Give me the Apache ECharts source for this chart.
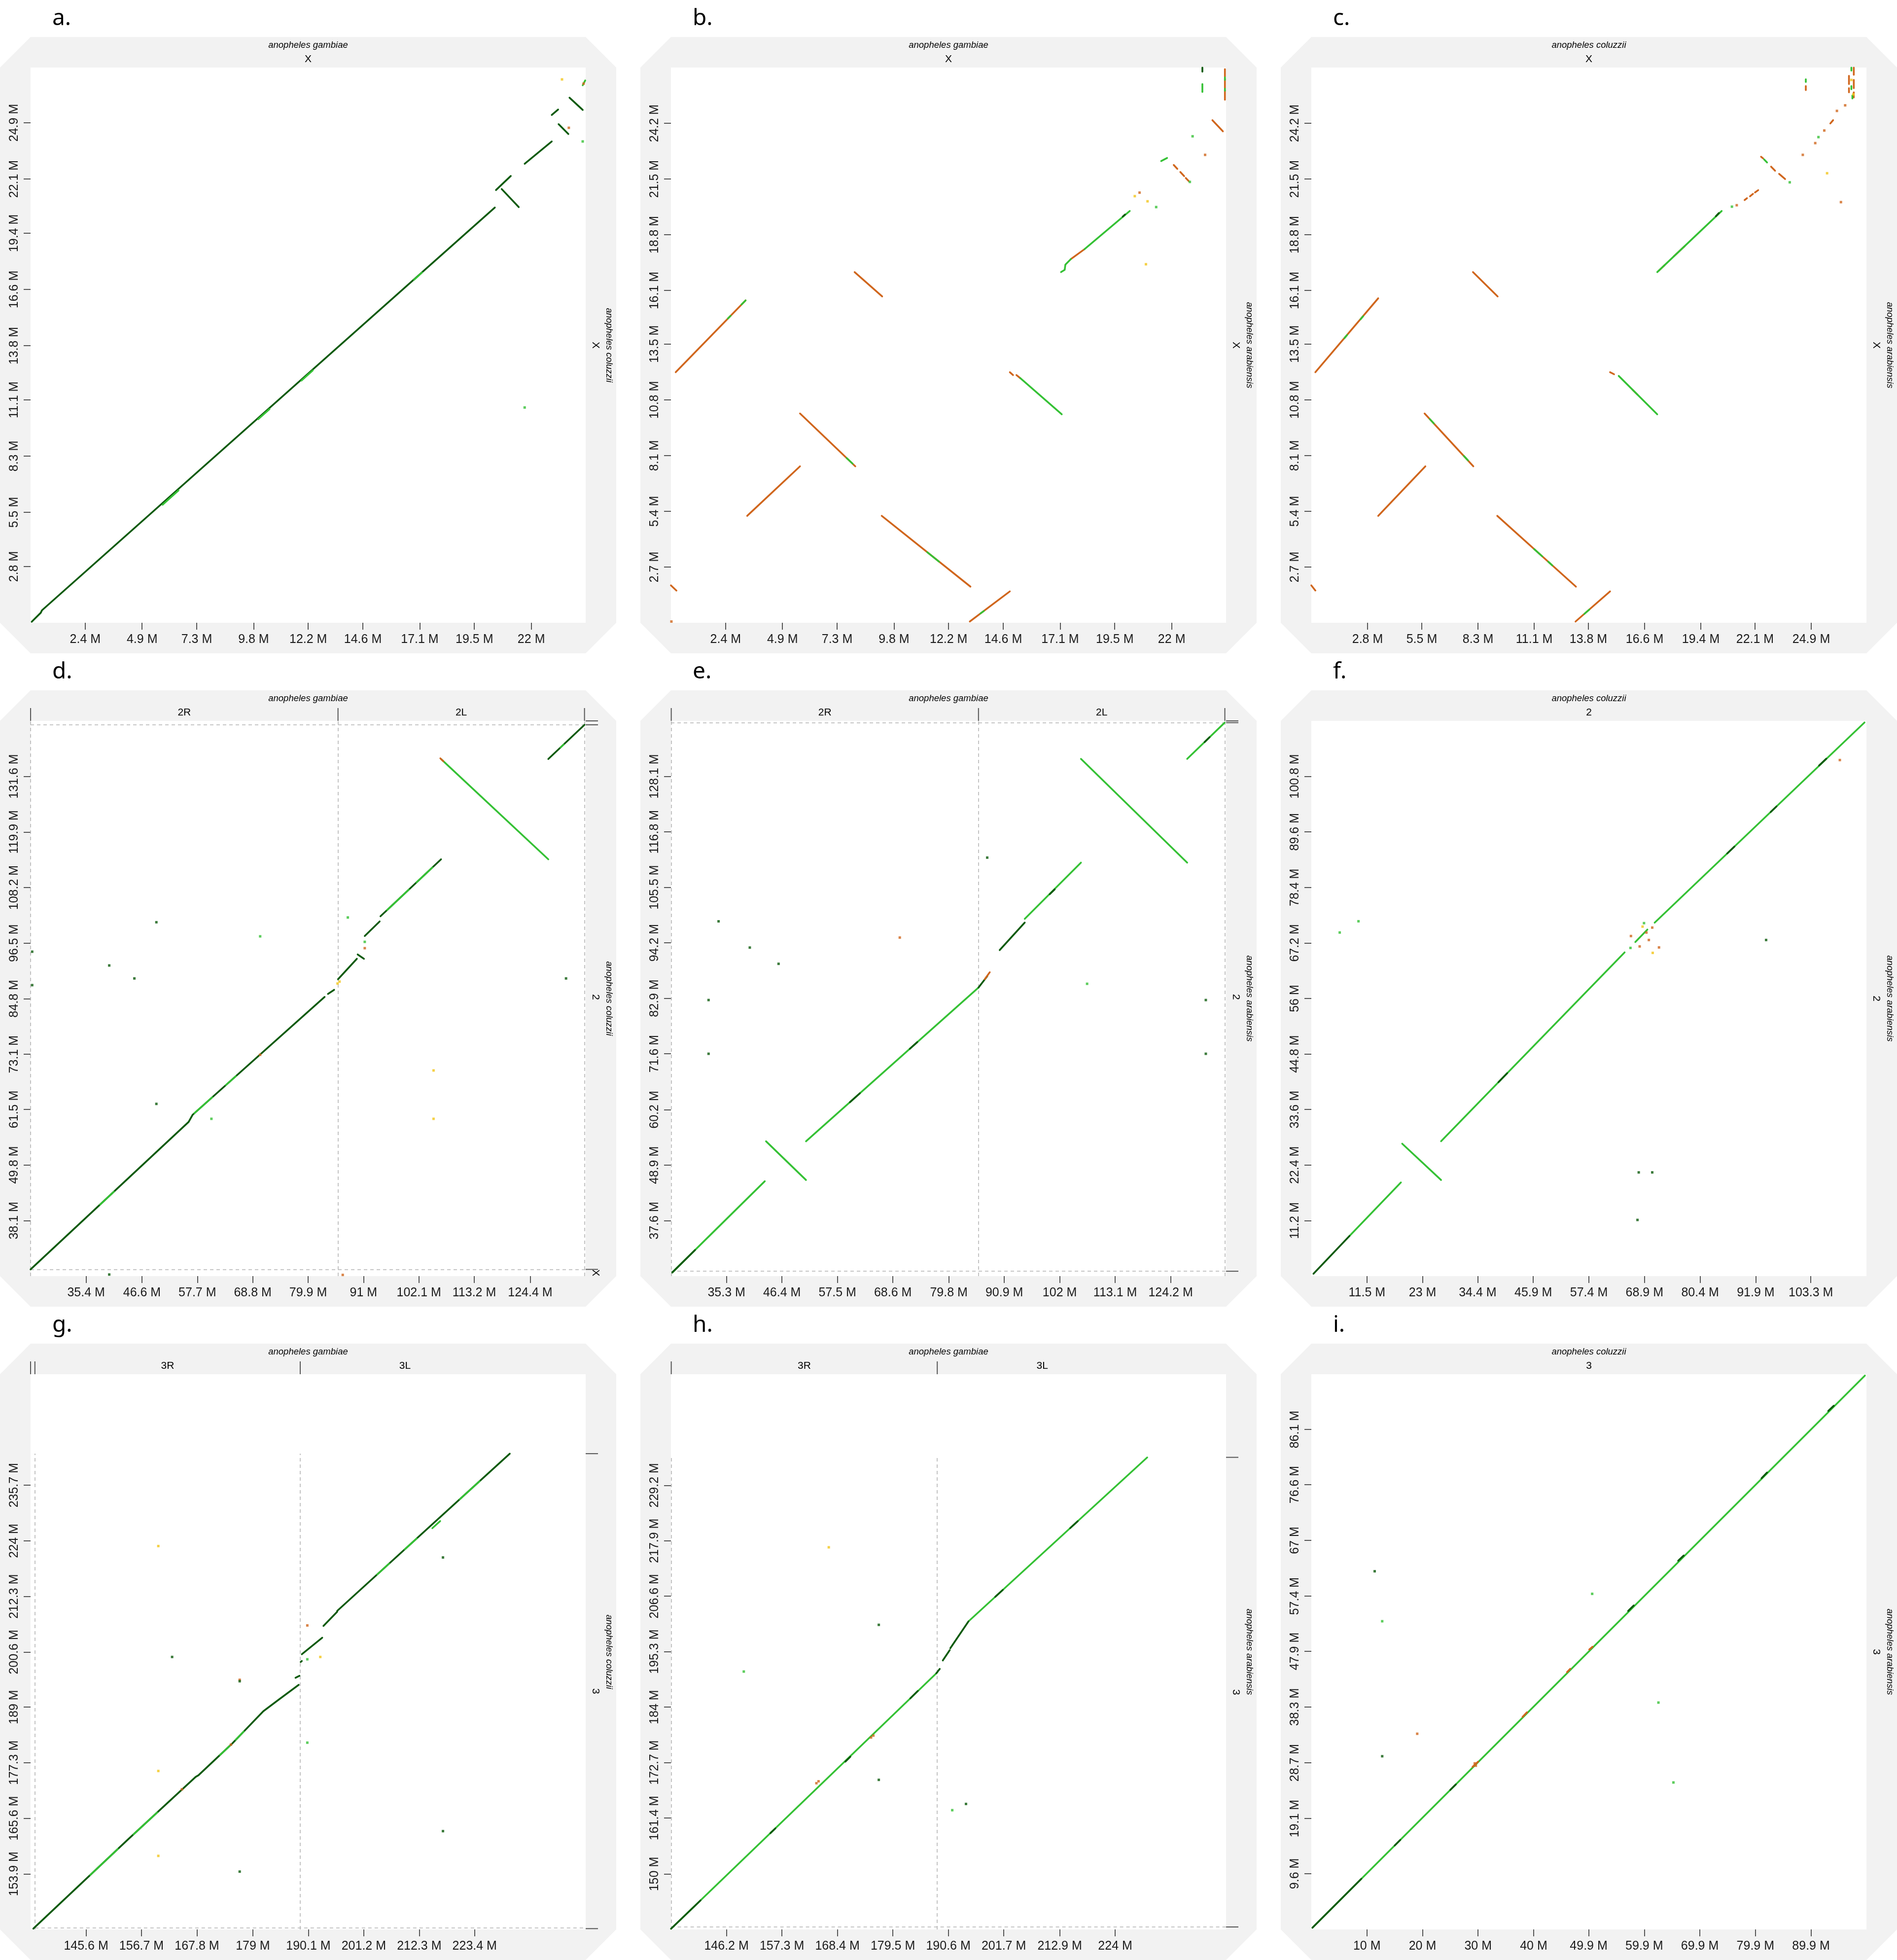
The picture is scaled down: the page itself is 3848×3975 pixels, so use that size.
<!DOCTYPE html>
<html><head><meta charset="utf-8">
<script src="https://cdn.jsdelivr.net/npm/echarts@6/dist/echarts.min.js"></script>
<style>html,body{margin:0;padding:0;background:#fff}#c{width:3848px;height:3975px}</style>
</head><body><div id="c"></div>
<script>
// ---------- colours ----------
const COLORS = {dark:'#0b5a0b', light:'#35c135', orange:'#d0661d', yellow:'#f3c51a'};

// ---------- panel a : gambiae X vs coluzzii X ----------
const aXRange=[0,24.39], aYRange=[0,27.65];
const aXTicks=[2.4,4.9,7.3,9.8,12.2,14.6,17.1,19.5,22];
const aYTicks=[2.8,5.5,8.3,11.1,13.8,16.6,19.4,22.1,24.9];
const aDark=[[0.05,0.05,0.45,0.5,0.5,0.62,20.4,20.68],[20.45,21.55,21.1,22.25],[20.7,21.6,21.45,20.7],
 [21.71,22.86,22.9,23.97],[22.9,25.29,23.18,25.56],[23.68,26.15,24.26,25.54],[23.2,24.83,23.63,24.34]];
const aLight=[[5.8,5.88,6.5,6.59],[10.0,10.14,10.5,10.64],[11.9,12.06,12.4,12.57],[16.85,17.08,17.2,17.44],[24.26,26.77,24.37,27.01]];
const aDotLight=[[21.71,10.72],[24.26,23.97]];
const aDotOrange=[[23.65,24.65],[24.3,26.85]];
const aDotYellow=[[23.35,27.06]];

// ---------- panel b : gambiae X vs arabiensis X ----------
const bXRange=[0,24.39], bYRange=[0,26.9];
const bXTicks=[2.4,4.9,7.3,9.8,12.2,14.6,17.1,19.5,22];
const bYTicks=[2.7,5.4,8.1,10.8,13.5,16.1,18.8,21.5,24.2];
const bOrange=[[0.21,12.14,3.28,15.62],[3.35,5.18,5.67,7.58],[5.67,10.14,8.10,7.58],[8.07,16.99,9.28,15.81],
 [9.26,5.18,13.16,1.75],[13.13,0.06,14.89,1.52],[14.89,12.14,15.03,12.0],[15.18,12.0,15.35,11.85],
 [17.57,17.62,18.17,18.10],[0.0,1.81,0.24,1.56],[23.79,24.35,24.25,23.81],
 [24.34,26.82,24.34,26.45],[24.34,26.35,24.34,25.9],[24.34,25.8,24.34,25.34],
 [22.09,22.18,22.25,21.99],[22.38,21.84,22.55,21.64],[22.62,21.55,22.75,21.40]];
const bLight=[[15.35,11.85,17.17,10.10],[17.14,16.99,17.3,17.1,17.33,17.35,17.57,17.62],[18.17,18.10,20.16,19.95],
 [3.1,15.42,3.28,15.62],[2.5,14.74,2.62,14.87],[7.72,7.98,7.98,7.71],[11.26,3.42,11.78,2.96],[13.6,0.45,13.75,0.57],
 [21.54,22.37,21.80,22.52],[23.35,26.1,23.35,25.72],[24.34,26.42,24.34,26.3],[24.34,25.88,24.34,25.78]];
const bDark=[[23.35,26.9,23.35,26.7],[19.85,19.68,19.95,19.78]];
const bDotOrange=[[20.59,20.84],[23.47,22.67],[0.02,0.06]];
const bDotLight=[[22.92,23.57],[21.32,20.14],[22.80,21.36]];
const bDotYellow=[[20.38,20.67],[20.94,20.42],[20.87,17.37]];

// ---------- panel c : coluzzii X vs arabiensis X ----------
const cXRange=[0,27.65], cYRange=[0,26.9];
const cXTicks=[2.8,5.5,8.3,11.1,13.8,16.6,19.4,22.1,24.9];
const cYTicks=[2.7,5.4,8.1,10.8,13.5,16.1,18.8,21.5,24.2];
const cOrange=[[0.20,12.14,3.33,15.72],[3.33,5.18,5.68,7.58],[5.64,10.14,8.07,7.58],[8.05,16.99,9.28,15.81],
 [9.26,5.18,13.18,1.75],[13.16,0.06,14.88,1.52],[14.88,12.14,15.08,12.04],[17.3,17.05,17.6,17.33],
 [18.05,17.75,18.6,18.25],[16.0,11.29,16.25,11.05],[0.0,1.81,0.2,1.56],
 [21.58,20.48,21.7,20.57],[21.85,20.66,22.0,20.78],[22.1,20.85,22.26,20.96],
 [22.40,22.58,22.5,22.5],[22.9,22.1,23.1,21.9],[23.3,21.75,23.6,21.5],[25.85,24.19,25.99,24.35],
 [26.78,26.5,26.78,26.1],[26.78,25.9,26.78,25.7],[27.02,26.9,27.02,26.55],[27.02,26.3,27.02,25.9],[27.02,25.7,27.02,25.45],
 [24.63,26.0,24.63,25.81]];
const cLight=[[15.31,11.96,17.23,10.10],[17.23,16.99,20.44,19.95],[1.65,13.79,1.78,13.94],[2.45,14.70,2.58,14.85],
 [5.9,9.87,6.1,9.66],[7.6,8.08,7.8,7.87],[11.1,3.57,11.5,3.22],[11.8,2.96,12.0,2.78],[13.6,0.43,13.85,0.64],
 [22.55,22.45,22.7,22.3],[24.63,26.33,24.63,26.2],[26.9,26.9,26.9,26.75],[26.9,26.0,26.9,25.85],[26.95,25.55,26.95,25.4]];
const cDark=[[20.15,19.7,20.3,19.85]];
const cDotLight=[[20.95,20.16],[25.26,23.53],[23.83,21.34]];
const cDotOrange=[[21.19,20.23],[24.48,22.67],[25.10,23.24],[25.55,23.85],[26.18,24.80],[26.59,25.07],[26.38,20.38]];
const cDotYellow=[[25.69,21.78],[26.9,26.3],[27.0,25.6]];

// ---------- panel d : gambiae 2 vs coluzzii 2 ----------
const dXRange=[24.275,135.525], dYRange=[26.41,143.285];
const dXTicks=[35.4,46.6,57.7,68.8,79.9,91,102.1,113.2,124.4];
const dYTicks=[38.1,49.8,61.5,73.1,84.8,96.5,108.2,119.9,131.6];
const dDark=[[24.28,27.82,55.95,58.86,56.74,60.35,83.2,85.18],[83.88,85.81,85.11,86.67],[85.89,88.90,89.67,93.21],
 [89.83,94.12,91.09,93.21],[91.25,98.01,94.24,101.07],[94.40,102.15,106.54,114.15],[128.04,135.26,135.29,142.46]];
const dLight=[[106.54,135.26,128.04,114.15],[38.22,41.48,40.98,44.18],[57.13,60.72,60.68,64.05],[63.43,66.63,65.40,68.48],
 [95.74,103.47,100.07,107.75],[101.65,109.31,104.80,112.42],[130.5,137.7,131.1,138.3]];
const dOrange=[[106.4,135.4,107.0,134.8]];
const dDotDark=[[49.49,100.90],[40.04,91.80],[45.08,89.07],[24.6,94.70],[24.6,87.66],[49.49,62.66],[131.59,89.07],[40.04,26.74]];
const dDotLight=[[60.52,59.52],[70.29,97.93],[87.86,101.90],[91.25,96.77]];
const dDotOrange=[[91.25,95.44],[86.84,26.66],[70.29,73.0]];
const dDotYellow=[[105.04,69.70],[105.04,59.52],[85.8,88.0],[86.2,88.4]];
const dDashed=[[24.28,26.41,24.28,143.285],[85.89,26.41,85.89,143.285],[135.29,26.41,135.29,143.285],
 [24.275,27.82,135.525,27.82],[24.275,142.46,135.525,142.46]];

// ---------- panel e : gambiae 2 vs arabiensis 2 ----------
const eXRange=[24.19,135.29], eYRange=[26.29,139.42];
const eXTicks=[35.3,46.4,57.5,68.6,79.8,90.9,102,113.1,124.2];
const eYTicks=[37.6,48.9,60.2,71.6,82.9,94.2,105.5,116.8,128.1];
const eLight=[[24.46,27.03,42.97,45.62],[43.22,53.76,51.22,45.87],[51.22,53.76,85.74,85.08],[95.0,99.09,106.25,110.54],
 [106.25,131.68,127.51,110.54],[127.51,131.68,135.01,139.06]];
const eDark=[[24.46,27.03,29.0,31.59],[85.74,85.08,87.5,87.4],[89.99,92.72,95.0,98.32],[60.0,61.72,62.0,63.54],
 [72.0,72.61,73.5,73.97],[100.0,104.1,101.0,105.1],[131.0,135.1,132.0,136.1]];
const eOrange=[[87.0,86.8,88.0,88.2]];
const eDotOrange=[[69.99,95.27]];
const eDotDark=[[33.72,98.58],[39.97,93.23],[45.73,89.92],[31.72,82.54],[31.72,71.59],[87.49,111.56],[131.24,82.54],[131.24,71.59]];
const eDotLight=[[107.48,85.85]];
const eDashed=[[24.25,26.29,24.25,139.42],[85.74,26.29,85.74,139.42],[135.05,26.29,135.05,139.42],
 [24.19,27.28,135.29,27.28],[24.19,139.06,135.29,139.06]];

// ---------- panel f : coluzzii 2 vs arabiensis 2 ----------
const fXRange=[0,114.8], fYRange=[0,112];
const fXTicks=[11.5,23,34.4,45.9,57.4,68.9,80.4,91.9,103.3];
const fYTicks=[11.2,22.4,33.6,44.8,56,67.2,78.4,89.6,100.8];
const fLight=[[7.9,8.1,18.53,18.89],[18.79,26.71,26.83,19.39],[26.83,27.21,64.79,65.30],[67.0,67.4,69.5,69.9],[71.0,71.3,114.4,111.68]];
const fDark=[[0.44,0.48,7.9,8.1],[38.7,39.12,40.5,40.93],[86.0,85.25,87.5,86.65],[95.0,93.62,96.2,94.74],[105.0,102.99,106.5,104.38]];
const fDotLight=[[5.87,69.31],[9.75,71.58],[66.0,66.2],[68.8,71.2]];
const fDotDark=[[67.71,20.92],[70.5,20.92],[67.45,11.33],[94.05,67.8]];
const fDotOrange=[[66.1,68.6],[67.9,66.5],[69.8,67.8],[71.9,66.3],[69.3,69.3],[70.5,70.3],[109.3,104.1]];
const fDotYellow=[[68.5,70.5],[70.6,65.2]];

// ---------- panel g : gambiae 3 vs coluzzii 3 ----------
const gXRange=[134.49,245.63], gYRange=[142.21,259.07];
const gXTicks=[145.6,156.7,167.8,179,190.1,201.2,212.3,223.4];
const gYTicks=[153.9,165.6,177.3,189,200.6,212.3,224,235.7];
const gDark=[[135.04,142.38,153.93,161.08,167.55,174.32,168.10,174.65,174.79,181.27,181.09,188.14,184.24,190.63,188.17,193.69],
 [187.54,195.18,188.33,195.59],[188.56,198.49,188.8,198.7],[188.80,200.14,192.89,203.62],[193.13,206.10,195.88,209.08],
 [195.88,209.25,230.44,242.35]];
const gLight=[[146.45,153.68,151.96,159.14],[155.11,162.23,159.83,166.82],[172.43,178.92,174.40,180.87],[175.58,182.13,177.15,183.85],
 [203.91,216.93,206.27,219.19],[209.42,222.21,211.78,224.47],[214.93,226.66,216.5,228.16],[220.44,232.76,224.38,236.54]];
const gDotOrange=[[164.79,171.7],[174.6,181.1],[176.36,194.75],[189.90,206.19]];
const gDotDark=[[162.83,199.56],[176.36,194.45],[176.36,154.38],[217.06,220.50],[217.06,162.90]];
const gDotLight=[[189.9,199.07],[189.9,181.52]];
const gDotYellow=[[160.07,222.90],[160.07,175.56],[160.07,157.69],[192.50,199.56]];
const gDashed=[[135.36,142.21,135.36,242.35],[188.48,142.21,188.48,242.35],[135.36,142.54,245.63,142.54]];

// ---------- panel h : gambiae 3 vs arabiensis 3 ----------
const hXRange=[135.09,246.19], hYRange=[138.7,251.84];
const hXTicks=[146.2,157.3,168.4,179.5,190.6,201.7,212.9,224];
const hYTicks=[150,161.4,172.7,184,195.3,206.6,217.9,229.2];
const hLight=[[135.12,138.85,188.39,191.07],[194.64,201.47,230.41,234.88]];
const hDark=[[135.12,138.85,141.0,144.61],[188.2,190.9,188.89,191.79],[189.5,193.5,190.89,195.61],[191.0,196.0,194.64,201.47],
 [155.0,158.33,156.0,159.3],[170.0,172.9,171.0,173.9],[183.0,185.8,184.5,187.3],[200.0,206.48,201.5,207.88],[215.0,220.49,216.5,221.89]];
const hDotOrange=[[164.63,168.89],[175.14,177.81],[164.2,168.5],[175.6,178.2]];
const hDotDark=[[176.69,200.77],[176.69,169.18],[194.14,164.27]];
const hDotLight=[[149.67,191.25],[191.39,163.0]];
const hDotYellow=[[166.68,216.57]];
const hDashed=[[135.15,138.7,135.15,234.9],[188.39,138.7,188.39,234.9],[135.15,139.2,246.19,139.2]];

// ---------- panel i : coluzzii 3 vs arabiensis 3 ----------
const iXRange=[0,99.875], iYRange=[0,95.625];
const iXTicks=[10,20,30,40,49.9,59.9,69.9,79.9,89.9];
const iYTicks=[9.6,19.1,28.7,38.3,47.9,57.4,67,76.6,86.1];
const iLight=[[0.2,0.3,99.6,95.4]];
const iDark=[[0.2,0.3,9.0,8.72],[15.0,14.46,16.0,15.41],[25.0,24.03,26.0,24.98],[57.0,54.85,58.0,55.8],[66.0,63.5,67.0,64.4],
 [81.0,77.7,82.0,78.7],[93.0,89.3,94.0,90.2]];
const iOrange=[[29.0,28.0,30.0,28.9],[38.0,36.6,38.8,37.4],[46.0,44.3,46.6,44.9],[50.0,48.2,50.6,48.7]];
const iDotDark=[[11.40,61.69],[12.75,29.83]];
const iDotLight=[[12.75,53.08],[50.53,57.80],[62.45,39.07],[65.15,25.31]];
const iDotOrange=[[19.05,33.70],[29.4,28.6],[29.6,28.2]];

// ---------- panel layout ----------
const GAM='anopheles gambiae', COL='anopheles coluzzii', ARA='anopheles arabiensis';
const panels=[
 {letter:'a.',xSp:GAM,ySp:COL,xR:aXRange,yR:aYRange,xT:aXTicks,yT:aYTicks,xArms:[['X',0,24.39]],yArms:[['X',0,27.65]],topSep:[],rightTicks:[],dashed:[],
  layers:[['dark',aDark],['light',aLight]],dots:[['light',aDotLight],['orange',aDotOrange],['yellow',aDotYellow]]},
 {letter:'b.',xSp:GAM,ySp:ARA,xR:bXRange,yR:bYRange,xT:bXTicks,yT:bYTicks,xArms:[['X',0,24.39]],yArms:[['X',0,26.9]],topSep:[],rightTicks:[],dashed:[],
  layers:[['orange',bOrange],['light',bLight],['dark',bDark]],dots:[['orange',bDotOrange],['light',bDotLight],['yellow',bDotYellow]]},
 {letter:'c.',xSp:COL,ySp:ARA,xR:cXRange,yR:cYRange,xT:cXTicks,yT:cYTicks,xArms:[['X',0,27.65]],yArms:[['X',0,26.9]],topSep:[],rightTicks:[],dashed:[],
  layers:[['orange',cOrange],['light',cLight],['dark',cDark]],dots:[['orange',cDotOrange],['light',cDotLight],['yellow',cDotYellow]]},
 {letter:'d.',xSp:GAM,ySp:COL,xR:dXRange,yR:dYRange,xT:dXTicks,yT:dYTicks,xArms:[['2R',24.28,85.89],['2L',85.89,135.29]],
  yArms:[['X',26.41,27.82],['2',27.82,142.46]],topSep:[24.28,85.89,135.29],rightTicks:[143.285,142.46,27.82],dashed:dDashed,
  layers:[['dark',dDark],['light',dLight],['orange',dOrange]],dots:[['dark',dDotDark],['light',dDotLight],['orange',dDotOrange],['yellow',dDotYellow]]},
 {letter:'e.',xSp:GAM,ySp:ARA,xR:eXRange,yR:eYRange,xT:eXTicks,yT:eYTicks,xArms:[['2R',24.25,85.74],['2L',85.74,135.05]],
  yArms:[['2',27.28,139.06]],topSep:[24.25,85.74,135.05],rightTicks:[139.42,139.06,27.28],dashed:eDashed,
  layers:[['light',eLight],['dark',eDark],['orange',eOrange]],dots:[['dark',eDotDark],['light',eDotLight],['orange',eDotOrange]]},
 {letter:'f.',xSp:COL,ySp:ARA,xR:fXRange,yR:fYRange,xT:fXTicks,yT:fYTicks,xArms:[['2',0,114.8]],yArms:[['2',0,112]],topSep:[],rightTicks:[],dashed:[],
  layers:[['light',fLight],['dark',fDark]],dots:[['light',fDotLight],['dark',fDotDark],['orange',fDotOrange],['yellow',fDotYellow]]},
 {letter:'g.',xSp:GAM,ySp:COL,xR:gXRange,yR:gYRange,xT:gXTicks,yT:gYTicks,xArms:[['3R',135.36,188.48],['3L',188.48,230.44]],
  yArms:[['3',142.38,242.35]],topSep:[134.49,135.36,188.48],rightTicks:[242.35,142.38],dashed:gDashed,
  layers:[['dark',gDark],['light',gLight]],dots:[['orange',gDotOrange],['dark',gDotDark],['light',gDotLight],['yellow',gDotYellow]]},
 {letter:'h.',xSp:GAM,ySp:ARA,xR:hXRange,yR:hYRange,xT:hXTicks,yT:hYTicks,xArms:[['3R',135.15,188.39],['3L',188.39,230.41]],
  yArms:[['3',139.2,234.9]],topSep:[135.15,188.39],rightTicks:[234.9,139.2],dashed:hDashed,
  layers:[['light',hLight],['dark',hDark]],dots:[['orange',hDotOrange],['dark',hDotDark],['light',hDotLight],['yellow',hDotYellow]]},
 {letter:'i.',xSp:COL,ySp:ARA,xR:iXRange,yR:iYRange,xT:iXTicks,yT:iYTicks,xArms:[['3',0,99.875]],yArms:[['3',0,95.625]],topSep:[],rightTicks:[],dashed:[],
  layers:[['light',iLight],['dark',iDark],['orange',iOrange]],dots:[['dark',iDotDark],['light',iDotLight],['orange',iDotOrange]]}
];

const COLX=[0,1299,2598], ROWY=[75,1400,2725];
const BOX=1250, CH=62, PLOT=1126;
const NARROW='"Liberation Sans Narrow","Arial Narrow","Liberation Sans",Arial,sans-serif';
const SPFONT='italic 18.5px "Liberation Sans",Arial,sans-serif';
const fmt=v=>String(Math.round(v*10)/10)+' M';
const toPairs=s=>{const r=[];for(let k=0;k<s.length;k+=2)r.push([s[k],s[k+1]]);return r;};

const chart=echarts.init(document.getElementById('c'),null,{renderer:'canvas'});
const grids=[],xAxes=[],yAxes=[],series=[];
panels.forEach((p,i)=>{
  const ox=COLX[i%3], oy=ROWY[Math.floor(i/3)];
  grids.push({left:ox+CH,top:oy+CH,width:PLOT,height:PLOT,containLabel:false,show:false});
  const axisCommon={type:'value',gridIndex:i,splitLine:{show:false},axisLine:{show:false},
    axisTick:{show:true,length:14,lineStyle:{color:'#555',width:2}},
    axisLabel:{fontSize:25,color:'#1a1a1a',fontFamily:NARROW,formatter:fmt}};
  xAxes.push(Object.assign({},axisCommon,{position:'bottom',min:p.xR[0],max:p.xR[1],
    axisTick:Object.assign({},axisCommon.axisTick,{customValues:p.xT}),
    axisLabel:Object.assign({},axisCommon.axisLabel,{customValues:p.xT,margin:22})}));
  yAxes.push(Object.assign({},axisCommon,{position:'left',min:p.yR[0],max:p.yR[1],
    axisTick:Object.assign({},axisCommon.axisTick,{customValues:p.yT}),
    axisLabel:Object.assign({},axisCommon.axisLabel,{customValues:p.yT,rotate:90,margin:20})}));
  if(p.dashed.length){
    series.push({type:'lines',coordinateSystem:'cartesian2d',xAxisIndex:i,yAxisIndex:i,polyline:false,silent:true,z:1,
      lineStyle:{color:'#b4b4b4',width:1.6,type:[7,6],opacity:1},
      data:p.dashed.map(s=>({coords:toPairs(s)}))});
  }
  p.layers.forEach(([c,segs],k)=>{
    series.push({type:'lines',coordinateSystem:'cartesian2d',xAxisIndex:i,yAxisIndex:i,polyline:true,silent:true,z:3+k,
      lineStyle:{color:COLORS[c],width:3.6,opacity:1,cap:'round',join:'round'},
      data:segs.map(s=>({coords:toPairs(s)}))});
  });
  p.dots.forEach(([c,pts])=>{
    series.push({type:'scatter',xAxisIndex:i,yAxisIndex:i,silent:true,z:8,symbol:'rect',symbolSize:5,
      itemStyle:{color:COLORS[c]},data:pts});
  });
});
chart.setOption({animation:false,backgroundColor:'#ffffff',grid:grids,xAxis:xAxes,yAxis:yAxes,series:series});

// ---------- frames, titles, arm labels ----------
const els=[];
panels.forEach((p,i)=>{
  const ox=COLX[i%3], oy=ROWY[Math.floor(i/3)];
  const toPx=(x,y)=>chart.convertToPixel({gridIndex:i},[x,y]);
  els.push({type:'polygon',z:-20,silent:true,shape:{points:[[ox+CH,oy],[ox+BOX-CH,oy],[ox+BOX,oy+CH],[ox+BOX,oy+BOX-CH],[ox+BOX-CH,oy+BOX],[ox+CH,oy+BOX],[ox,oy+BOX-CH],[ox,oy+CH]]},style:{fill:'#f2f2f2'}});
  els.push({type:'rect',z:-19,silent:true,shape:{x:ox+CH,y:oy+CH,width:PLOT,height:PLOT},style:{fill:'#ffffff'}});
  els.push({type:'text',z:5,silent:true,x:ox+106,y:oy-14,style:{text:p.letter,font:'46px "Noto Sans","Open Sans",sans-serif',fill:'#000',align:'left',verticalAlign:'bottom'}});
  els.push({type:'text',z:5,silent:true,x:ox+BOX/2,y:oy+17,style:{text:p.xSp,font:SPFONT,fill:'#000',align:'center',verticalAlign:'middle'}});
  p.xArms.forEach(([lab,a,b])=>{
    const xa=toPx(a,p.yR[0])[0], xb=toPx(b,p.yR[0])[0];
    els.push({type:'text',z:5,silent:true,x:(xa+xb)/2,y:oy+45,style:{text:lab,font:'21px '+NARROW,fill:'#000',align:'center',verticalAlign:'middle'}});
  });
  p.topSep.forEach(v=>{
    const xp=toPx(v,p.yR[0])[0];
    els.push({type:'line',z:5,silent:true,shape:{x1:xp,y1:oy+36,x2:xp,y2:oy+CH},style:{stroke:'#555',lineWidth:2}});
  });
  els.push({type:'text',z:5,silent:true,x:ox+1235,y:oy+CH+PLOT/2,rotation:-Math.PI/2,style:{text:p.ySp,font:SPFONT,fill:'#000',align:'center',verticalAlign:'middle'}});
  p.yArms.forEach(([lab,a,b])=>{
    const ya=toPx(p.xR[0],a)[1], yb=toPx(p.xR[0],b)[1];
    els.push({type:'text',z:5,silent:true,x:ox+1208,y:(ya+yb)/2,rotation:-Math.PI/2,style:{text:lab,font:'21px '+NARROW,fill:'#000',align:'center',verticalAlign:'middle'}});
  });
  p.rightTicks.forEach(v=>{
    const yp=toPx(p.xR[0],v)[1];
    els.push({type:'line',z:5,silent:true,shape:{x1:ox+CH+PLOT,y1:yp,x2:ox+CH+PLOT+25,y2:yp},style:{stroke:'#555',lineWidth:2}});
  });
});
chart.setOption({graphic:{elements:els}});
</script></body></html>
